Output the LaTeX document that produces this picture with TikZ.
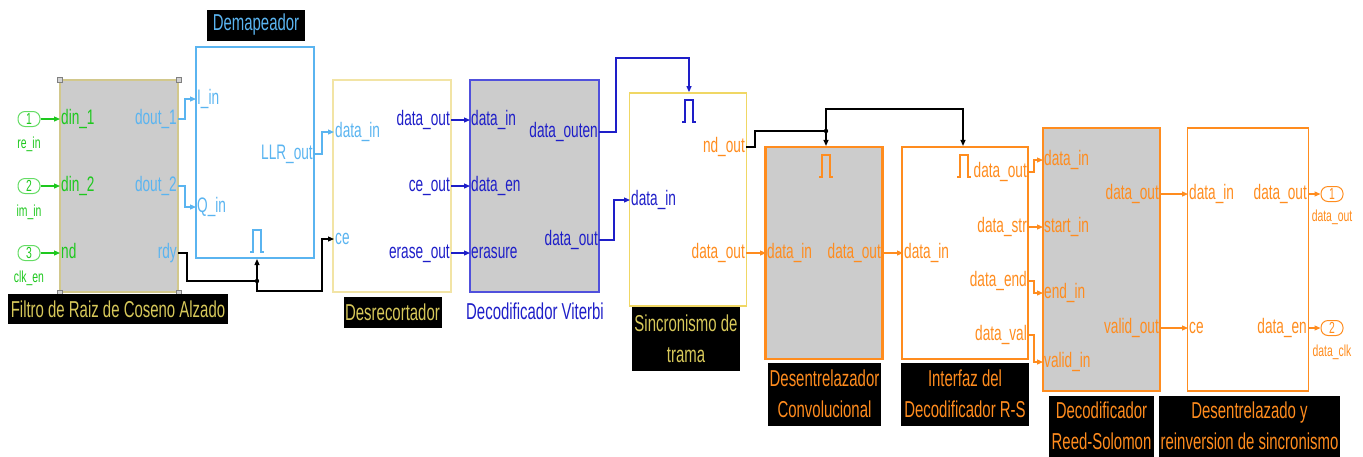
\documentclass[tikz,border=0pt]{standalone}
\usepackage{fontspec}
\setmainfont{Liberation Sans}[FakeStretch=0.65]
\usetikzlibrary{arrows.meta}

\definecolor{simgreen}{RGB}{30,200,30}
\definecolor{portgreen}{RGB}{100,220,100}
\definecolor{skyblue}{RGB}{90,180,240}
\definecolor{khaki}{RGB}{215,200,90}
\definecolor{khakiline}{RGB}{210,200,140}
\definecolor{paleyellow}{RGB}{242,228,165}
\definecolor{sinyellow}{RGB}{240,215,100}
\definecolor{deepblue}{RGB}{30,30,200}
\definecolor{vitblue}{RGB}{80,80,220}
\definecolor{simorange}{RGB}{255,140,30}
\definecolor{blockgray}{RGB}{204,204,204}

\newcommand\lblfont{\fontsize{21}{24}\selectfont}
\newcommand\hdfont{\fontsize{23}{31}\selectfont}
\newcommand\iofont{\fontsize{16}{18}\selectfont}

\tikzset{
  blk/.style={draw,line width=1.3pt,inner sep=0pt},
  thickblk/.style={blk,line width=2.2pt},
  inport/.style={anchor=west,inner sep=1pt,font=\lblfont,text height=15pt,text depth=4.5pt},
  outport/.style={anchor=east,inner sep=1pt,font=\lblfont,text height=15pt,text depth=4.5pt},
  titlebox/.style={fill=black,inner sep=0pt,align=center,font=\hdfont},
  io/.style={draw,rounded corners=7pt,line width=1pt,minimum width=22pt,minimum height=15pt,inner sep=0pt,font=\iofont},
  iolbl/.style={inner sep=0pt,font=\iofont},
  handle/.style={draw=gray,fill=gray!35,line width=0.6pt,minimum size=5pt,inner sep=0pt},
  wire/.style={line width=1.2pt},
  arr/.style={wire,-{Triangle[length=6pt,width=5pt]}},
  pulse/.pic={\draw[line width=1.1pt] (-7,11) -- (-4,11) -- (-4,-11) -- (4,-11) -- (4,11) -- (7,11);}
}

\begin{document}
\begin{tikzpicture}[x=1pt,y=-1pt]
\useasboundingbox (0,0) rectangle (1363,456);

\node[io,draw=portgreen,text=simgreen] (in1) at (29,119) {1};
\node[iolbl,simgreen] (in1-name) at (29,144) {re\_in};
\node[io,draw=portgreen,text=simgreen] (in2) at (29,186) {2};
\node[iolbl,simgreen] (in2-name) at (29,212) {im\_in};
\node[io,draw=portgreen,text=simgreen] (in3) at (29,253) {3};
\node[iolbl,simgreen] (in3-name) at (29,278) {clk\_en};

\node[blk,draw=khakiline,fill=blockgray,minimum width=118pt,minimum height=212pt] (filt) at (119,186) {};
\foreach \c/\n in {north west/1,north east/2,south west/3,south east/4}
  \node[handle] (filt-h\n) at (filt.\c) {};
\node[inport,simgreen] (filt-din1) at (60,119) {din\_1};
\node[inport,simgreen] (filt-din2) at (60,186) {din\_2};
\node[inport,simgreen] (filt-nd) at (60,253) {nd};
\node[outport,skyblue] (filt-do1) at (178,119) {dout\_1};
\node[outport,skyblue] (filt-do2) at (178,186) {dout\_2};
\node[outport,skyblue] (filt-rdy) at (178,253) {rdy};
\node[titlebox,text=khaki,minimum width=220pt,minimum height=30pt] (filt-title) at (118,309) {Filtro de Raiz de Coseno Alzado};

\node[blk,draw=skyblue,line width=2pt,minimum width=118pt,minimum height=211pt] (demap) at (254.5,152.5) {};
\node[inport,skyblue] (demap-iin) at (196,99) {I\_in};
\node[inport,skyblue] (demap-qin) at (196,207) {Q\_in};
\node[outport,skyblue] (demap-llr) at (314,154) {LLR\_out};
\pic[skyblue] at (257,241) {pulse};
\node[titlebox,text=skyblue,minimum width=98pt,minimum height=31pt] (demap-title) at (256,25) {Demapeador};

\node[blk,draw=paleyellow,minimum width=118pt,minimum height=212pt] (desr) at (392,186) {};
\node[inport,skyblue] (desr-din) at (334,132) {data\_in};
\node[inport,skyblue] (desr-ce) at (334,239) {ce};
\node[outport,deepblue] (desr-dout) at (451,120) {data\_out};
\node[outport,deepblue] (desr-ceout) at (451,186) {ce\_out};
\node[outport,deepblue] (desr-er) at (451,253) {erase\_out};
\node[titlebox,text=khaki,minimum width=98pt,minimum height=31pt] (desr-title) at (392.5,312.5) {Desrecortador};

\node[blk,draw=vitblue,fill=blockgray,minimum width=129pt,minimum height=212pt] (vit) at (534.5,186) {};
\node[inport,deepblue] (vit-din) at (470,120) {data\_in};
\node[inport,deepblue] (vit-den) at (470,186) {data\_en};
\node[inport,deepblue] (vit-er) at (470,253) {erasure};
\node[outport,deepblue] (vit-doen) at (599,132) {data\_outen};
\node[outport,deepblue] (vit-dout) at (599,240) {data\_out};
\node[inner sep=0pt,font=\hdfont,text=deepblue] (vit-title) at (535,311) {Decodificador Viterbi};

\node[blk,draw=sinyellow,line width=1.8pt,minimum width=117pt,minimum height=213pt] (sinc) at (688,199.5) {};
\node[inport,deepblue] (sinc-din) at (630,200) {data\_in};
\node[outport,simorange] (sinc-nd) at (746,147) {nd\_out};
\node[outport,simorange] (sinc-dout) at (746,253) {data\_out};
\pic[deepblue] at (689,111) {pulse};
\node[titlebox,text=khaki,minimum width=108pt,minimum height=64pt] (sinc-title) at (686,338.5) {Sincronismo de\\trama};

\node[thickblk,draw=simorange,fill=blockgray,minimum width=117pt,minimum height=212pt] (dconv) at (824,253) {};
\node[inport,simorange] (dconv-din) at (766,253) {data\_in};
\node[outport,simorange] (dconv-dout) at (882,253) {data\_out};
\pic[simorange] at (826,166) {pulse};
\node[titlebox,text=simorange,minimum width=113pt,minimum height=63pt] (dconv-title) at (824.5,394) {Desentrelazador\\Convolucional};

\node[thickblk,draw=simorange,minimum width=126pt,minimum height=212pt] (intf) at (965,253) {};
\node[inport,simorange] (intf-din) at (903,253) {data\_in};
\node[outport,simorange] (intf-dout) at (1028,172) {data\_out};
\node[outport,simorange] (intf-dstr) at (1028,227) {data\_str};
\node[outport,simorange] (intf-dend) at (1028,281) {data\_end};
\node[outport,simorange] (intf-dval) at (1028,335) {data\_val};
\pic[simorange] at (964,166) {pulse};
\node[titlebox,text=simorange,minimum width=128pt,minimum height=63pt] (intf-title) at (965,394) {Interfaz del\\Decodificador R-S};

\node[blk,draw=simorange,fill=blockgray,minimum width=117pt,minimum height=263pt] (rs) at (1101.5,259.5) {};
\node[inport,simorange] (rs-din) at (1043,160) {data\_in};
\node[inport,simorange] (rs-start) at (1043,227) {start\_in};
\node[inport,simorange] (rs-end) at (1043,293) {end\_in};
\node[inport,simorange] (rs-val) at (1043,362) {valid\_in};
\node[outport,simorange] (rs-dout) at (1160,194) {data\_out};
\node[outport,simorange] (rs-vout) at (1160,328) {valid\_out};
\node[titlebox,text=simorange,minimum width=105pt,minimum height=61pt] (rs-title) at (1101.5,426) {Decodificador\\Reed-Solomon};

\node[blk,draw=simorange,minimum width=121pt,minimum height=263pt] (dsinc) at (1248,259.5) {};
\node[inport,simorange] (dsinc-din) at (1188,194) {data\_in};
\node[inport,simorange] (dsinc-ce) at (1188,328) {ce};
\node[outport,simorange] (dsinc-dout) at (1308,194) {data\_out};
\node[outport,simorange] (dsinc-den) at (1308,328) {data\_en};
\node[titlebox,text=simorange,minimum width=181pt,minimum height=61pt] (dsinc-title) at (1249.5,426) {Desentrelazado y\\reinversion de sincronismo};

\node[io,draw=simorange,text=simorange] (out1) at (1332,194) {1};
\node[iolbl,simorange] (out1-name) at (1332,217) {data\_out};
\node[io,draw=simorange,text=simorange] (out2) at (1332,328) {2};
\node[iolbl,simorange] (out2-name) at (1332,352) {data\_clk};

\coordinate (rdyjoin) at (257,281);
\coordinate (rdyturn) at (322,291);
\coordinate (entop) at (689,58);
\coordinate (ndjoin) at (826,131);
\coordinate (ndtop) at (963,109);

\draw[arr,simgreen] (in1.east) -- (filt-din1.west);
\draw[arr,simgreen] (in2.east) -- (filt-din2.west);
\draw[arr,simgreen] (in3.east) -- (filt-nd.west);
\draw[arr,skyblue] (filt-do1.east) -- ++(7,0) |- (demap-iin.west);
\draw[arr,skyblue] (filt-do2.east) -- ++(7,0) |- (demap-qin.west);
\draw[wire] (filt-rdy.east) -- ++(9,0) |- (rdyjoin);
\draw[arr] (rdyjoin) -- (rdyjoin |- demap.south);
\draw[arr] (rdyjoin) |- (rdyturn) |- (desr-ce.west);
\fill (rdyjoin) circle (2.2pt);
\draw[arr,skyblue] (demap-llr.east) -- ++(8,0) |- (desr-din.west);
\draw[arr,deepblue] (desr-dout.east) -- (vit-din.west);
\draw[arr,deepblue] (desr-ceout.east) -- (vit-den.west);
\draw[arr,deepblue] (desr-er.east) -- (vit-er.west);
\draw[arr,deepblue] (vit-doen.east) -- ++(17,0) |- (entop) -- (entop |- sinc.north);
\draw[arr,deepblue] (vit-dout.east) -- ++(15,0) |- (sinc-din.west);
\draw[wire] (sinc-nd.east) -- ++(9,0) |- (ndjoin);
\draw[arr] (ndjoin) -- (ndjoin |- dconv.north);
\draw[arr] (ndjoin) |- (ndtop) -- (ndtop |- intf.north);
\fill (ndjoin) circle (2.2pt);
\draw[arr,simorange] (sinc-dout.east) -- (dconv-din.west);
\draw[arr,simorange] (dconv-dout.east) -- (intf-din.west);
\draw[arr,simorange] (intf-dout.east) -- ++(6,0) |- (rs-din.west);
\draw[arr,simorange] (intf-dstr.east) -- (rs-start.west);
\draw[arr,simorange] (intf-dend.east) -- ++(6,0) |- (rs-end.west);
\draw[arr,simorange] (intf-dval.east) -- ++(6,0) |- (rs-val.west);
\draw[arr,simorange] (rs-dout.east) -- (dsinc-din.west);
\draw[arr,simorange] (rs-vout.east) -- (dsinc-ce.west);
\draw[arr,simorange] (dsinc-dout.east) -- (out1.west);
\draw[arr,simorange] (dsinc-den.east) -- (out2.west);
\end{tikzpicture}
\end{document}
